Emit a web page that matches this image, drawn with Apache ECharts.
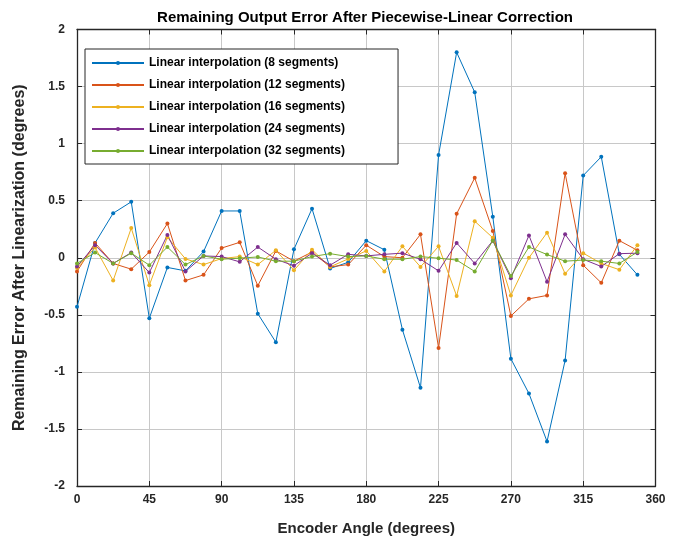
<!DOCTYPE html>
<html>
<head>
<meta charset="utf-8">
<script src="https://cdn.jsdelivr.net/npm/echarts@6/dist/echarts.min.js"></script>
<style>html,body{margin:0;padding:0;background:#fff}#c{width:673px;height:541px}</style>
</head>
<body>
<div id="c"></div>
<script>
const angles = [0,11.25,22.5,33.75,45,56.25,67.5,78.75,90,101.25,112.5,123.75,135,146.25,157.5,168.75,180,191.25,202.5,213.75,225,236.25,247.5,258.75,270,281.25,292.5,303.75,315,326.25,337.5,348.75];
const seg8  = [-0.43,0.13,0.39,0.49,-0.53,-0.085,-0.115,0.054,0.41,0.41,-0.49,-0.74,0.074,0.43,-0.094,-0.04,0.15,0.07,-0.63,-1.14,0.90,1.80,1.45,0.36,-0.885,-1.19,-1.61,-0.90,0.72,0.885,0.03,-0.15];
const seg12 = [-0.12,0.13,-0.05,-0.10,0.05,0.30,-0.20,-0.15,0.085,0.135,-0.245,0.06,-0.03,0.05,-0.08,-0.06,0.11,0.01,0.0,0.205,-0.79,0.385,0.70,0.235,-0.51,-0.36,-0.33,0.74,-0.065,-0.22,0.15,0.065];
const seg16 = [-0.09,0.09,-0.20,0.26,-0.24,0.18,-0.01,-0.06,-0.007,0.01,-0.06,0.065,-0.11,0.07,-0.08,-0.01,0.06,-0.12,0.10,-0.08,0.10,-0.335,0.32,0.175,-0.33,0.0,0.22,-0.14,0.04,-0.05,-0.105,0.11];
const seg24 = [-0.077,0.11,-0.05,0.045,-0.13,0.20,-0.12,0.016,0.01,-0.036,0.094,-0.013,-0.07,0.04,-0.065,0.03,0.016,0.03,0.04,-0.013,-0.115,0.13,-0.05,0.15,-0.18,0.196,-0.21,0.205,-0.013,-0.077,0.036,0.04];
const seg32 = [-0.05,0.045,-0.05,0.04,-0.065,0.094,-0.06,0.016,-0.013,-0.004,0.007,-0.03,-0.03,0.01,0.036,0.01,0.016,-0.013,-0.013,0.01,-0.004,-0.02,-0.12,0.15,-0.16,0.094,0.028,-0.03,-0.02,-0.03,-0.05,0.05];
const seriesNames = ['Linear interpolation (8 segments)','Linear interpolation (12 segments)','Linear interpolation (16 segments)','Linear interpolation (24 segments)','Linear interpolation (32 segments)'];
const colors = ['#0072BD','#D95319','#EDB120','#7E2F8E','#77AC30'];
const xTicks = {min:0,max:360,interval:45};
const yTicks = {min:-2,max:2,interval:0.5};

const allData = [seg8,seg12,seg16,seg24,seg32];
const font = 'Liberation Sans, Arial, Helvetica, sans-serif';
const axisCol = '#262626';

const chart = echarts.init(document.getElementById('c'));
chart.setOption({
  animation:false,
  backgroundColor:'#fff',
  color:colors,
  title:{text:'Remaining Output Error After Piecewise-Linear Correction',left:360,textAlign:'center',top:5,
    textStyle:{fontFamily:font,fontWeight:'bold',fontSize:15,color:'#000'}},
  grid:{left:77,right:17.5,top:29.5,bottom:54},
  legend:{orient:'vertical',left:85,top:49,padding:[7,53,6,6],itemWidth:52,itemHeight:5,itemGap:8,
    backgroundColor:'#fff',borderColor:axisCol,borderWidth:1,
    textStyle:{fontFamily:font,fontWeight:'bold',fontSize:12,color:'#000',lineHeight:14},
    data:seriesNames},
  xAxis:[
    {type:'value',min:xTicks.min,max:xTicks.max,interval:xTicks.interval,position:'bottom',
     name:'Encoder Angle (degrees)',nameLocation:'middle',nameGap:35,
     nameTextStyle:{fontFamily:font,fontWeight:'bold',fontSize:15,color:axisCol},
     axisLine:{onZero:false,lineStyle:{color:axisCol,width:1.3}},
     axisTick:{inside:true,length:5,lineStyle:{color:axisCol}},
     axisLabel:{margin:8,fontFamily:font,fontWeight:'bold',fontSize:12,color:axisCol},
     splitLine:{show:true,lineStyle:{color:'#c8c8c8',width:1}}},
    {type:'value',min:xTicks.min,max:xTicks.max,interval:xTicks.interval,position:'top',
     axisLine:{onZero:false,lineStyle:{color:axisCol,width:1.3}},
     axisTick:{inside:true,length:5,lineStyle:{color:axisCol}},
     axisLabel:{show:false},splitLine:{show:false}}
  ],
  yAxis:[
    {type:'value',min:yTicks.min,max:yTicks.max,interval:yTicks.interval,position:'left',
     name:'Remaining Error After Linearization (degrees)',nameLocation:'middle',nameGap:49,
     nameTextStyle:{fontFamily:font,fontWeight:'bold',fontSize:16,color:axisCol},
     axisLine:{show:true,onZero:false,lineStyle:{color:axisCol,width:1.3}},
     axisTick:{show:true,inside:true,length:5,lineStyle:{color:axisCol}},
     axisLabel:{margin:12,fontFamily:font,fontWeight:'bold',fontSize:12,color:axisCol},
     splitLine:{show:true,lineStyle:{color:'#c8c8c8',width:1}}},
    {type:'value',min:yTicks.min,max:yTicks.max,interval:yTicks.interval,position:'right',
     axisLine:{show:true,onZero:false,lineStyle:{color:axisCol,width:1.3}},
     axisTick:{show:true,inside:true,length:5,lineStyle:{color:axisCol}},
     axisLabel:{show:false},splitLine:{show:false}}
  ],
  series: allData.map((d,i)=>({
    name:seriesNames[i],type:'line',xAxisIndex:0,yAxisIndex:0,
    data:angles.map((a,j)=>[a,d[j]]),
    symbol:'circle',symbolSize:4,showSymbol:true,
    lineStyle:{width:1,color:colors[i]},itemStyle:{color:colors[i]},
    emphasis:{disabled:true}
  }))
});
</script>
</body>
</html>
